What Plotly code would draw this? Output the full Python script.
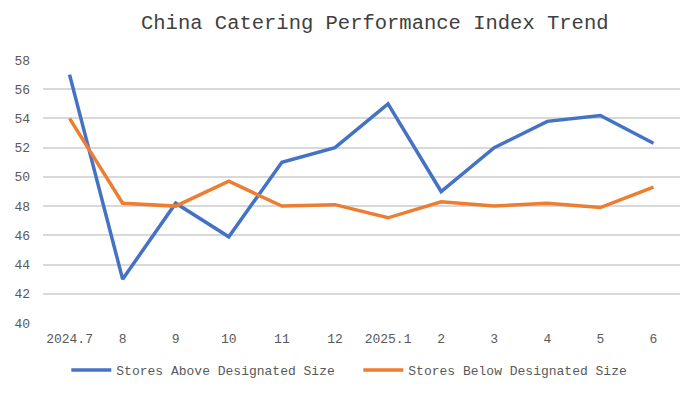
import plotly.graph_objects as go

categories = ["2024.7", "8", "9", "10", "11", "12", "2025.1", "2", "3", "4", "5", "6"]
above = [57, 43, 48.2, 45.9, 51, 52, 55, 49, 52, 53.8, 54.2, 52.3]
below = [54, 48.2, 48, 49.7, 48, 48.1, 47.2, 48.3, 48, 48.2, 47.9, 49.3]
y_ticks = [40, 42, 44, 46, 48, 50, 52, 54, 56, 58]

mono = "Liberation Mono, DejaVu Sans Mono, monospace"

fig = go.Figure()
fig.add_trace(go.Scatter(x=categories, y=above, mode="lines", name="Stores Above Designated Size",
                         line=dict(color="#4472C4", width=3.5)))
fig.add_trace(go.Scatter(x=categories, y=below, mode="lines", name="Stores Below Designated Size",
                         line=dict(color="#ED7D31", width=3.5)))

fig.update_layout(
    width=692, height=395,
    margin=dict(l=35, r=20, t=52, b=80),
    paper_bgcolor="white", plot_bgcolor="white",
    title=dict(text="China Catering Performance Index Trend", x=0.530, xanchor="center", xref="container",
               y=1 - 14 / 395, yanchor="middle", yref="container",
               font=dict(family=mono, size=20.5, color="#404040")),
    showlegend=True,
    legend=dict(orientation="h", x=0.495, xanchor="center", y=-0.179, yanchor="middle",
                font=dict(family=mono, size=13, color="#595959"), itemwidth=40,
                entrywidth=237, entrywidthmode="pixels",
                tracegroupgap=0),
)
fig.update_xaxes(type="category", showgrid=False, showline=False, zeroline=False,
                 tickfont=dict(family=mono, size=13, color="#595959"), ticks="",
                 ticklabelstandoff=6, automargin=False,
                 range=[-0.5, len(categories) - 0.5])
fig.update_yaxes(range=[40, 58], tickvals=y_ticks, showgrid=True, gridcolor="#d9d9d9", gridwidth=1.5,
                 zeroline=False, showline=False, ticklabelstandoff=12, automargin=False,
                 tickfont=dict(family=mono, size=13, color="#595959"), ticks="")

fig.write_html("out.html")
